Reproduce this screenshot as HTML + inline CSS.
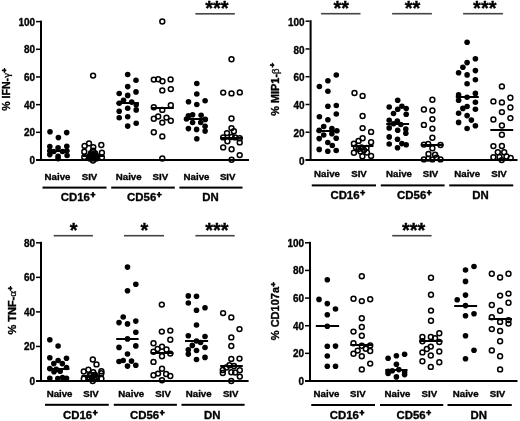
<!DOCTYPE html>
<html><head><meta charset="utf-8"><style>
html,body{margin:0;padding:0;background:#fff;width:520px;height:421px;overflow:hidden}
svg{display:block;filter:grayscale(1)}
text{font-family:"Liberation Sans",sans-serif;font-weight:bold;fill:#000;stroke:#000;stroke-width:0.35px;stroke-linejoin:round}
</style></head><body>
<svg width="520" height="421" viewBox="0 0 520 421">
<rect x="40.00" y="20.60" width="2.00" height="140.40" fill="#000"/>
<rect x="36.00" y="159.00" width="213.00" height="2.00" fill="#000"/>
<rect x="36.00" y="159.25" width="4.00" height="1.50" fill="#000"/>
<text transform="translate(35.00,164.00) scale(0.94,1)" font-size="10.6" text-anchor="end">0</text>
<rect x="36.00" y="131.57" width="4.00" height="1.50" fill="#000"/>
<text transform="translate(35.00,136.32) scale(0.94,1)" font-size="10.6" text-anchor="end">20</text>
<rect x="36.00" y="103.89" width="4.00" height="1.50" fill="#000"/>
<text transform="translate(35.00,108.64) scale(0.94,1)" font-size="10.6" text-anchor="end">40</text>
<rect x="36.00" y="76.21" width="4.00" height="1.50" fill="#000"/>
<text transform="translate(35.00,80.96) scale(0.94,1)" font-size="10.6" text-anchor="end">60</text>
<rect x="36.00" y="48.53" width="4.00" height="1.50" fill="#000"/>
<text transform="translate(35.00,53.28) scale(0.94,1)" font-size="10.6" text-anchor="end">80</text>
<rect x="36.00" y="20.85" width="4.00" height="1.50" fill="#000"/>
<text transform="translate(35.00,25.60) scale(0.94,1)" font-size="10.6" text-anchor="end">100</text>
<text transform="translate(10,89.5) rotate(-90)" font-size="10.6" text-anchor="middle">% IFN-<tspan font-family="Liberation Serif" font-weight="normal">&#947;</tspan><tspan dx="0.3" dy="-3" font-size="8" style="stroke-width:0.7px">+</tspan></text>
<text x="57.50" y="179.50" font-size="9.7" text-anchor="middle" >Naive</text>
<text x="89.50" y="179.50" font-size="9.7" text-anchor="middle" >SIV</text>
<text x="128.70" y="179.50" font-size="9.7" text-anchor="middle" >Naive</text>
<text x="160.30" y="179.50" font-size="9.7" text-anchor="middle" >SIV</text>
<text x="196.50" y="179.50" font-size="9.7" text-anchor="middle" >Naive</text>
<text x="227.70" y="179.50" font-size="9.7" text-anchor="middle" >SIV</text>
<rect x="42.50" y="186.60" width="64.00" height="2.00" fill="#000"/>
<rect x="111.20" y="186.60" width="63.60" height="2.00" fill="#000"/>
<rect x="179.40" y="186.60" width="63.10" height="2.00" fill="#000"/>
<text x="78.10" y="200.75" font-size="11.4" text-anchor="middle" >CD16<tspan dx="0.6" dy="-2.6" font-size="8.3" style="stroke-width:0.8px">+</tspan></text>
<text x="144.40" y="200.75" font-size="11.4" text-anchor="middle" >CD56<tspan dx="0.6" dy="-2.6" font-size="8.3" style="stroke-width:0.8px">+</tspan></text>
<text x="210.50" y="200.75" font-size="11.4" text-anchor="middle" >DN</text>
<rect x="195.40" y="13.00" width="39.40" height="1.60" fill="#444"/>
<text x="216.90" y="15.20" font-size="20" text-anchor="middle" >***</text>
<circle cx="50.0" cy="131.8" r="2.8"/>
<circle cx="66.7" cy="132.6" r="2.8"/>
<circle cx="58.4" cy="137.6" r="2.8"/>
<circle cx="49.8" cy="146.6" r="2.8"/>
<circle cx="58.1" cy="147.8" r="2.8"/>
<circle cx="66.8" cy="146.3" r="2.8"/>
<circle cx="49.8" cy="150.7" r="2.8"/>
<circle cx="53.8" cy="151.5" r="2.8"/>
<circle cx="62.5" cy="151.5" r="2.8"/>
<circle cx="66.8" cy="150.7" r="2.8"/>
<circle cx="49.8" cy="154.6" r="2.8"/>
<circle cx="58.1" cy="156.2" r="2.8"/>
<circle cx="67.1" cy="155.5" r="2.8"/>
<circle cx="58.1" cy="158.6" r="2.8"/>
<circle cx="127.7" cy="74.5" r="2.8"/>
<circle cx="136.0" cy="80.2" r="2.8"/>
<circle cx="127.7" cy="86.6" r="2.8"/>
<circle cx="119.2" cy="93.5" r="2.8"/>
<circle cx="136.0" cy="91.9" r="2.8"/>
<circle cx="127.7" cy="95.4" r="2.8"/>
<circle cx="123.5" cy="100.2" r="2.8"/>
<circle cx="119.2" cy="103.2" r="2.8"/>
<circle cx="131.7" cy="102.1" r="2.8"/>
<circle cx="136.2" cy="104.8" r="2.8"/>
<circle cx="136.2" cy="109.9" r="2.8"/>
<circle cx="127.7" cy="108.2" r="2.8"/>
<circle cx="119.2" cy="111.3" r="2.8"/>
<circle cx="119.2" cy="117.7" r="2.8"/>
<circle cx="127.7" cy="116.7" r="2.8"/>
<circle cx="136.2" cy="123.2" r="2.8"/>
<circle cx="127.7" cy="126.1" r="2.8"/>
<circle cx="196.8" cy="83.5" r="2.8"/>
<circle cx="196.8" cy="94.0" r="2.8"/>
<circle cx="188.5" cy="101.8" r="2.8"/>
<circle cx="205.1" cy="100.7" r="2.8"/>
<circle cx="196.8" cy="104.5" r="2.8"/>
<circle cx="188.4" cy="115.9" r="2.8"/>
<circle cx="192.6" cy="114.8" r="2.8"/>
<circle cx="201.1" cy="115.2" r="2.8"/>
<circle cx="205.3" cy="119.4" r="2.8"/>
<circle cx="192.6" cy="122.5" r="2.8"/>
<circle cx="200.7" cy="122.5" r="2.8"/>
<circle cx="188.4" cy="128.6" r="2.8"/>
<circle cx="196.6" cy="129.4" r="2.8"/>
<circle cx="205.1" cy="126.3" r="2.8"/>
<circle cx="205.1" cy="131.1" r="2.8"/>
<circle cx="196.8" cy="138.8" r="2.8"/>
<circle cx="186.5" cy="119.0" r="2.8"/>
<circle cx="93.1" cy="75.6" r="2.45" fill="none" stroke="#000" stroke-width="1.5"/>
<circle cx="84.6" cy="145.9" r="2.45" fill="none" stroke="#000" stroke-width="1.5"/>
<circle cx="89.0" cy="143.4" r="2.45" fill="none" stroke="#000" stroke-width="1.5"/>
<circle cx="93.3" cy="147.1" r="2.45" fill="none" stroke="#000" stroke-width="1.5"/>
<circle cx="101.3" cy="145.0" r="2.45" fill="none" stroke="#000" stroke-width="1.5"/>
<circle cx="84.3" cy="151.7" r="2.45" fill="none" stroke="#000" stroke-width="1.5"/>
<circle cx="101.9" cy="152.7" r="2.45" fill="none" stroke="#000" stroke-width="1.5"/>
<circle cx="93.0" cy="150.8" r="2.45" fill="none" stroke="#000" stroke-width="1.5"/>
<circle cx="91.0" cy="153.3" r="2.45" fill="none" stroke="#000" stroke-width="1.5"/>
<circle cx="95.0" cy="153.3" r="2.45" fill="none" stroke="#000" stroke-width="1.5"/>
<circle cx="89.8" cy="156.0" r="2.45" fill="none" stroke="#000" stroke-width="1.5"/>
<circle cx="93.0" cy="156.0" r="2.45" fill="none" stroke="#000" stroke-width="1.5"/>
<circle cx="96.3" cy="156.0" r="2.45" fill="none" stroke="#000" stroke-width="1.5"/>
<circle cx="89.8" cy="158.6" r="2.45" fill="none" stroke="#000" stroke-width="1.5"/>
<circle cx="93.0" cy="158.6" r="2.45" fill="none" stroke="#000" stroke-width="1.5"/>
<circle cx="96.3" cy="158.6" r="2.45" fill="none" stroke="#000" stroke-width="1.5"/>
<circle cx="91.3" cy="155.0" r="2.45" fill="none" stroke="#000" stroke-width="1.5"/>
<circle cx="94.7" cy="155.0" r="2.45" fill="none" stroke="#000" stroke-width="1.5"/>
<circle cx="91.5" cy="157.5" r="2.45" fill="none" stroke="#000" stroke-width="1.5"/>
<circle cx="94.5" cy="157.5" r="2.45" fill="none" stroke="#000" stroke-width="1.5"/>
<circle cx="84.3" cy="157.0" r="2.45" fill="none" stroke="#000" stroke-width="1.5"/>
<circle cx="101.9" cy="157.5" r="2.45" fill="none" stroke="#000" stroke-width="1.5"/>
<circle cx="93.0" cy="160.5" r="2.45" fill="none" stroke="#000" stroke-width="1.5"/>
<circle cx="162.3" cy="21.5" r="2.45" fill="none" stroke="#000" stroke-width="1.5"/>
<circle cx="153.8" cy="79.6" r="2.45" fill="none" stroke="#000" stroke-width="1.5"/>
<circle cx="158.2" cy="79.2" r="2.45" fill="none" stroke="#000" stroke-width="1.5"/>
<circle cx="162.5" cy="81.2" r="2.45" fill="none" stroke="#000" stroke-width="1.5"/>
<circle cx="170.6" cy="79.4" r="2.45" fill="none" stroke="#000" stroke-width="1.5"/>
<circle cx="162.3" cy="90.4" r="2.45" fill="none" stroke="#000" stroke-width="1.5"/>
<circle cx="170.8" cy="89.1" r="2.45" fill="none" stroke="#000" stroke-width="1.5"/>
<circle cx="153.8" cy="107.2" r="2.45" fill="none" stroke="#000" stroke-width="1.5"/>
<circle cx="162.3" cy="109.9" r="2.45" fill="none" stroke="#000" stroke-width="1.5"/>
<circle cx="170.8" cy="105.3" r="2.45" fill="none" stroke="#000" stroke-width="1.5"/>
<circle cx="153.8" cy="118.8" r="2.45" fill="none" stroke="#000" stroke-width="1.5"/>
<circle cx="158.2" cy="116.5" r="2.45" fill="none" stroke="#000" stroke-width="1.5"/>
<circle cx="166.5" cy="117.6" r="2.45" fill="none" stroke="#000" stroke-width="1.5"/>
<circle cx="162.3" cy="122.6" r="2.45" fill="none" stroke="#000" stroke-width="1.5"/>
<circle cx="170.8" cy="120.7" r="2.45" fill="none" stroke="#000" stroke-width="1.5"/>
<circle cx="153.8" cy="132.3" r="2.45" fill="none" stroke="#000" stroke-width="1.5"/>
<circle cx="162.3" cy="136.4" r="2.45" fill="none" stroke="#000" stroke-width="1.5"/>
<circle cx="162.3" cy="158.5" r="2.45" fill="none" stroke="#000" stroke-width="1.5"/>
<circle cx="231.5" cy="59.2" r="2.45" fill="none" stroke="#000" stroke-width="1.5"/>
<circle cx="223.2" cy="92.6" r="2.45" fill="none" stroke="#000" stroke-width="1.5"/>
<circle cx="231.5" cy="93.4" r="2.45" fill="none" stroke="#000" stroke-width="1.5"/>
<circle cx="239.8" cy="92.4" r="2.45" fill="none" stroke="#000" stroke-width="1.5"/>
<circle cx="231.5" cy="118.5" r="2.45" fill="none" stroke="#000" stroke-width="1.5"/>
<circle cx="231.5" cy="128.1" r="2.45" fill="none" stroke="#000" stroke-width="1.5"/>
<circle cx="233.9" cy="131.2" r="2.45" fill="none" stroke="#000" stroke-width="1.5"/>
<circle cx="227.0" cy="133.1" r="2.45" fill="none" stroke="#000" stroke-width="1.5"/>
<circle cx="223.2" cy="137.4" r="2.45" fill="none" stroke="#000" stroke-width="1.5"/>
<circle cx="231.6" cy="137.0" r="2.45" fill="none" stroke="#000" stroke-width="1.5"/>
<circle cx="235.1" cy="137.4" r="2.45" fill="none" stroke="#000" stroke-width="1.5"/>
<circle cx="239.7" cy="138.2" r="2.45" fill="none" stroke="#000" stroke-width="1.5"/>
<circle cx="227.4" cy="141.2" r="2.45" fill="none" stroke="#000" stroke-width="1.5"/>
<circle cx="239.7" cy="142.4" r="2.45" fill="none" stroke="#000" stroke-width="1.5"/>
<circle cx="223.2" cy="147.4" r="2.45" fill="none" stroke="#000" stroke-width="1.5"/>
<circle cx="231.6" cy="149.3" r="2.45" fill="none" stroke="#000" stroke-width="1.5"/>
<circle cx="239.7" cy="155.1" r="2.45" fill="none" stroke="#000" stroke-width="1.5"/>
<circle cx="231.6" cy="159.7" r="2.45" fill="none" stroke="#000" stroke-width="1.5"/>
<rect x="47.20" y="150.00" width="22.20" height="2.00" fill="#000"/>
<rect x="83.00" y="155.00" width="21.00" height="2.00" fill="#000"/>
<rect x="116.50" y="102.00" width="22.30" height="2.00" fill="#000"/>
<rect x="151.20" y="107.00" width="22.60" height="2.00" fill="#000"/>
<rect x="185.30" y="118.00" width="22.70" height="2.00" fill="#000"/>
<rect x="220.50" y="137.00" width="22.30" height="2.00" fill="#000"/>
<rect x="309.60" y="20.20" width="2.00" height="140.80" fill="#000"/>
<rect x="305.60" y="159.00" width="211.90" height="2.00" fill="#000"/>
<rect x="305.60" y="159.25" width="4.00" height="1.50" fill="#000"/>
<text transform="translate(304.60,164.70) scale(0.94,1)" font-size="10.6" text-anchor="end">0</text>
<rect x="305.60" y="131.49" width="4.00" height="1.50" fill="#000"/>
<text transform="translate(304.60,136.94) scale(0.94,1)" font-size="10.6" text-anchor="end">20</text>
<rect x="305.60" y="103.73" width="4.00" height="1.50" fill="#000"/>
<text transform="translate(304.60,109.18) scale(0.94,1)" font-size="10.6" text-anchor="end">40</text>
<rect x="305.60" y="75.97" width="4.00" height="1.50" fill="#000"/>
<text transform="translate(304.60,81.42) scale(0.94,1)" font-size="10.6" text-anchor="end">60</text>
<rect x="305.60" y="48.21" width="4.00" height="1.50" fill="#000"/>
<text transform="translate(304.60,53.66) scale(0.94,1)" font-size="10.6" text-anchor="end">80</text>
<rect x="305.60" y="20.45" width="4.00" height="1.50" fill="#000"/>
<text transform="translate(304.60,25.90) scale(0.94,1)" font-size="10.6" text-anchor="end">100</text>
<text transform="translate(279,89.3) rotate(-90)" font-size="10.9" text-anchor="middle">% MIP1-<tspan font-family="Liberation Serif" font-weight="normal">&#946;</tspan><tspan dx="0.9" dy="-4.2" font-size="8" style="stroke-width:0.7px">+</tspan></text>
<text x="327.00" y="177.35" font-size="9.7" text-anchor="middle" >Naive</text>
<text x="359.00" y="177.35" font-size="9.7" text-anchor="middle" >SIV</text>
<text x="399.00" y="177.35" font-size="9.7" text-anchor="middle" >Naive</text>
<text x="430.50" y="177.35" font-size="9.7" text-anchor="middle" >SIV</text>
<text x="467.20" y="177.35" font-size="9.7" text-anchor="middle" >Naive</text>
<text x="499.00" y="177.35" font-size="9.7" text-anchor="middle" >SIV</text>
<rect x="311.75" y="184.40" width="64.25" height="2.00" fill="#000"/>
<rect x="380.80" y="184.40" width="63.80" height="2.00" fill="#000"/>
<rect x="449.25" y="184.40" width="64.00" height="2.00" fill="#000"/>
<text x="347.70" y="198.80" font-size="11.4" text-anchor="middle" >CD16<tspan dx="0.6" dy="-2.6" font-size="8.3" style="stroke-width:0.8px">+</tspan></text>
<text x="414.40" y="198.80" font-size="11.4" text-anchor="middle" >CD56<tspan dx="0.6" dy="-2.6" font-size="8.3" style="stroke-width:0.8px">+</tspan></text>
<text x="480.40" y="198.80" font-size="11.4" text-anchor="middle" >DN</text>
<rect x="321.10" y="12.90" width="39.40" height="1.60" fill="#444"/>
<text x="341.30" y="15.30" font-size="20" text-anchor="middle" >**</text>
<rect x="392.10" y="12.90" width="39.80" height="1.60" fill="#444"/>
<text x="412.50" y="15.30" font-size="20" text-anchor="middle" >**</text>
<rect x="463.10" y="12.90" width="39.80" height="1.60" fill="#444"/>
<text x="484.80" y="15.30" font-size="20" text-anchor="middle" >***</text>
<circle cx="336.3" cy="75.0" r="2.8"/>
<circle cx="327.9" cy="80.8" r="2.8"/>
<circle cx="319.4" cy="86.5" r="2.8"/>
<circle cx="327.9" cy="91.2" r="2.8"/>
<circle cx="327.9" cy="106.3" r="2.8"/>
<circle cx="336.3" cy="105.5" r="2.8"/>
<circle cx="336.3" cy="114.0" r="2.8"/>
<circle cx="319.4" cy="116.7" r="2.8"/>
<circle cx="327.9" cy="119.8" r="2.8"/>
<circle cx="323.7" cy="126.5" r="2.8"/>
<circle cx="319.2" cy="130.4" r="2.8"/>
<circle cx="331.9" cy="128.5" r="2.8"/>
<circle cx="336.9" cy="130.8" r="2.8"/>
<circle cx="323.7" cy="135.0" r="2.8"/>
<circle cx="331.9" cy="133.8" r="2.8"/>
<circle cx="336.2" cy="138.2" r="2.8"/>
<circle cx="319.2" cy="138.6" r="2.8"/>
<circle cx="327.8" cy="142.5" r="2.8"/>
<circle cx="332.3" cy="145.5" r="2.8"/>
<circle cx="319.2" cy="149.4" r="2.8"/>
<circle cx="327.8" cy="151.3" r="2.8"/>
<circle cx="336.2" cy="150.5" r="2.8"/>
<circle cx="397.7" cy="100.3" r="2.8"/>
<circle cx="389.2" cy="107.0" r="2.8"/>
<circle cx="401.9" cy="106.2" r="2.8"/>
<circle cx="397.7" cy="109.3" r="2.8"/>
<circle cx="406.2" cy="108.5" r="2.8"/>
<circle cx="393.5" cy="113.5" r="2.8"/>
<circle cx="406.2" cy="114.3" r="2.8"/>
<circle cx="389.2" cy="120.2" r="2.8"/>
<circle cx="397.3" cy="121.0" r="2.8"/>
<circle cx="393.5" cy="123.7" r="2.8"/>
<circle cx="400.8" cy="124.5" r="2.8"/>
<circle cx="389.2" cy="127.9" r="2.8"/>
<circle cx="405.8" cy="129.1" r="2.8"/>
<circle cx="397.7" cy="130.2" r="2.8"/>
<circle cx="405.8" cy="133.3" r="2.8"/>
<circle cx="389.2" cy="136.9" r="2.8"/>
<circle cx="397.5" cy="139.2" r="2.8"/>
<circle cx="389.2" cy="144.0" r="2.8"/>
<circle cx="401.9" cy="143.6" r="2.8"/>
<circle cx="406.2" cy="144.8" r="2.8"/>
<circle cx="397.5" cy="147.8" r="2.8"/>
<circle cx="467.1" cy="42.3" r="2.8"/>
<circle cx="475.4" cy="58.7" r="2.8"/>
<circle cx="467.1" cy="62.6" r="2.8"/>
<circle cx="462.9" cy="67.3" r="2.8"/>
<circle cx="458.6" cy="72.8" r="2.8"/>
<circle cx="475.4" cy="70.6" r="2.8"/>
<circle cx="467.1" cy="74.9" r="2.8"/>
<circle cx="475.4" cy="79.7" r="2.8"/>
<circle cx="467.1" cy="83.7" r="2.8"/>
<circle cx="458.6" cy="94.9" r="2.8"/>
<circle cx="475.4" cy="93.4" r="2.8"/>
<circle cx="458.6" cy="100.3" r="2.8"/>
<circle cx="467.1" cy="97.2" r="2.8"/>
<circle cx="475.4" cy="102.2" r="2.8"/>
<circle cx="467.1" cy="106.5" r="2.8"/>
<circle cx="462.9" cy="108.4" r="2.8"/>
<circle cx="475.4" cy="109.2" r="2.8"/>
<circle cx="458.6" cy="113.2" r="2.8"/>
<circle cx="467.1" cy="115.6" r="2.8"/>
<circle cx="471.4" cy="120.1" r="2.8"/>
<circle cx="458.6" cy="122.4" r="2.8"/>
<circle cx="475.4" cy="125.8" r="2.8"/>
<circle cx="467.1" cy="128.5" r="2.8"/>
<circle cx="354.5" cy="93.0" r="2.45" fill="none" stroke="#000" stroke-width="1.5"/>
<circle cx="362.6" cy="95.9" r="2.45" fill="none" stroke="#000" stroke-width="1.5"/>
<circle cx="362.6" cy="116.0" r="2.45" fill="none" stroke="#000" stroke-width="1.5"/>
<circle cx="362.6" cy="128.1" r="2.45" fill="none" stroke="#000" stroke-width="1.5"/>
<circle cx="371.1" cy="131.9" r="2.45" fill="none" stroke="#000" stroke-width="1.5"/>
<circle cx="362.6" cy="138.3" r="2.45" fill="none" stroke="#000" stroke-width="1.5"/>
<circle cx="358.5" cy="140.9" r="2.45" fill="none" stroke="#000" stroke-width="1.5"/>
<circle cx="353.9" cy="143.6" r="2.45" fill="none" stroke="#000" stroke-width="1.5"/>
<circle cx="371.1" cy="142.3" r="2.45" fill="none" stroke="#000" stroke-width="1.5"/>
<circle cx="358.5" cy="149.0" r="2.45" fill="none" stroke="#000" stroke-width="1.5"/>
<circle cx="364.0" cy="150.0" r="2.45" fill="none" stroke="#000" stroke-width="1.5"/>
<circle cx="356.0" cy="147.5" r="2.45" fill="none" stroke="#000" stroke-width="1.5"/>
<circle cx="361.5" cy="147.5" r="2.45" fill="none" stroke="#000" stroke-width="1.5"/>
<circle cx="366.5" cy="148.0" r="2.45" fill="none" stroke="#000" stroke-width="1.5"/>
<circle cx="360.5" cy="151.5" r="2.45" fill="none" stroke="#000" stroke-width="1.5"/>
<circle cx="353.9" cy="152.8" r="2.45" fill="none" stroke="#000" stroke-width="1.5"/>
<circle cx="367.0" cy="152.5" r="2.45" fill="none" stroke="#000" stroke-width="1.5"/>
<circle cx="362.4" cy="156.3" r="2.45" fill="none" stroke="#000" stroke-width="1.5"/>
<circle cx="371.1" cy="155.9" r="2.45" fill="none" stroke="#000" stroke-width="1.5"/>
<circle cx="432.4" cy="99.8" r="2.45" fill="none" stroke="#000" stroke-width="1.5"/>
<circle cx="423.9" cy="109.5" r="2.45" fill="none" stroke="#000" stroke-width="1.5"/>
<circle cx="432.4" cy="110.5" r="2.45" fill="none" stroke="#000" stroke-width="1.5"/>
<circle cx="432.4" cy="119.1" r="2.45" fill="none" stroke="#000" stroke-width="1.5"/>
<circle cx="423.9" cy="124.9" r="2.45" fill="none" stroke="#000" stroke-width="1.5"/>
<circle cx="432.4" cy="128.6" r="2.45" fill="none" stroke="#000" stroke-width="1.5"/>
<circle cx="432.4" cy="137.8" r="2.45" fill="none" stroke="#000" stroke-width="1.5"/>
<circle cx="423.9" cy="144.6" r="2.45" fill="none" stroke="#000" stroke-width="1.5"/>
<circle cx="428.2" cy="143.9" r="2.45" fill="none" stroke="#000" stroke-width="1.5"/>
<circle cx="440.5" cy="145.0" r="2.45" fill="none" stroke="#000" stroke-width="1.5"/>
<circle cx="432.4" cy="148.2" r="2.45" fill="none" stroke="#000" stroke-width="1.5"/>
<circle cx="428.5" cy="154.0" r="2.45" fill="none" stroke="#000" stroke-width="1.5"/>
<circle cx="435.1" cy="154.8" r="2.45" fill="none" stroke="#000" stroke-width="1.5"/>
<circle cx="423.9" cy="159.4" r="2.45" fill="none" stroke="#000" stroke-width="1.5"/>
<circle cx="432.4" cy="159.4" r="2.45" fill="none" stroke="#000" stroke-width="1.5"/>
<circle cx="440.5" cy="159.4" r="2.45" fill="none" stroke="#000" stroke-width="1.5"/>
<circle cx="428.2" cy="158.6" r="2.45" fill="none" stroke="#000" stroke-width="1.5"/>
<circle cx="436.6" cy="157.8" r="2.45" fill="none" stroke="#000" stroke-width="1.5"/>
<circle cx="501.9" cy="86.4" r="2.45" fill="none" stroke="#000" stroke-width="1.5"/>
<circle cx="510.4" cy="97.8" r="2.45" fill="none" stroke="#000" stroke-width="1.5"/>
<circle cx="493.4" cy="101.4" r="2.45" fill="none" stroke="#000" stroke-width="1.5"/>
<circle cx="501.9" cy="102.4" r="2.45" fill="none" stroke="#000" stroke-width="1.5"/>
<circle cx="510.4" cy="107.5" r="2.45" fill="none" stroke="#000" stroke-width="1.5"/>
<circle cx="501.9" cy="112.1" r="2.45" fill="none" stroke="#000" stroke-width="1.5"/>
<circle cx="493.4" cy="119.5" r="2.45" fill="none" stroke="#000" stroke-width="1.5"/>
<circle cx="510.4" cy="118.1" r="2.45" fill="none" stroke="#000" stroke-width="1.5"/>
<circle cx="501.9" cy="125.5" r="2.45" fill="none" stroke="#000" stroke-width="1.5"/>
<circle cx="501.9" cy="134.7" r="2.45" fill="none" stroke="#000" stroke-width="1.5"/>
<circle cx="493.4" cy="146.1" r="2.45" fill="none" stroke="#000" stroke-width="1.5"/>
<circle cx="501.9" cy="146.0" r="2.45" fill="none" stroke="#000" stroke-width="1.5"/>
<circle cx="497.8" cy="152.2" r="2.45" fill="none" stroke="#000" stroke-width="1.5"/>
<circle cx="504.2" cy="152.2" r="2.45" fill="none" stroke="#000" stroke-width="1.5"/>
<circle cx="493.4" cy="157.2" r="2.45" fill="none" stroke="#000" stroke-width="1.5"/>
<circle cx="506.5" cy="156.5" r="2.45" fill="none" stroke="#000" stroke-width="1.5"/>
<circle cx="501.7" cy="160.1" r="2.45" fill="none" stroke="#000" stroke-width="1.5"/>
<circle cx="510.7" cy="158.0" r="2.45" fill="none" stroke="#000" stroke-width="1.5"/>
<circle cx="499.5" cy="157.0" r="2.45" fill="none" stroke="#000" stroke-width="1.5"/>
<rect x="316.50" y="130.00" width="22.70" height="2.00" fill="#000"/>
<rect x="351.20" y="145.00" width="22.30" height="2.00" fill="#000"/>
<rect x="386.20" y="123.00" width="22.90" height="2.00" fill="#000"/>
<rect x="420.80" y="144.00" width="22.70" height="2.00" fill="#000"/>
<rect x="455.80" y="96.00" width="23.00" height="2.00" fill="#000"/>
<rect x="490.30" y="129.00" width="22.90" height="2.00" fill="#000"/>
<rect x="40.00" y="241.80" width="2.00" height="140.20" fill="#000"/>
<rect x="36.00" y="380.00" width="212.60" height="2.00" fill="#000"/>
<rect x="36.00" y="380.25" width="4.00" height="1.50" fill="#000"/>
<text transform="translate(35.00,385.00) scale(0.94,1)" font-size="10.6" text-anchor="end">0</text>
<rect x="36.00" y="345.70" width="4.00" height="1.50" fill="#000"/>
<text transform="translate(35.00,350.45) scale(0.94,1)" font-size="10.6" text-anchor="end">20</text>
<rect x="36.00" y="311.15" width="4.00" height="1.50" fill="#000"/>
<text transform="translate(35.00,315.90) scale(0.94,1)" font-size="10.6" text-anchor="end">40</text>
<rect x="36.00" y="276.60" width="4.00" height="1.50" fill="#000"/>
<text transform="translate(35.00,281.35) scale(0.94,1)" font-size="10.6" text-anchor="end">60</text>
<rect x="36.00" y="242.05" width="4.00" height="1.50" fill="#000"/>
<text transform="translate(35.00,246.80) scale(0.94,1)" font-size="10.6" text-anchor="end">80</text>
<text transform="translate(16,310.3) rotate(-90)" font-size="11" text-anchor="middle">% TNF-<tspan font-family="Liberation Serif" font-weight="normal">&#945;</tspan><tspan dx="0.3" dy="-3" font-size="8" style="stroke-width:0.7px">+</tspan></text>
<text x="59.60" y="396.95" font-size="9.7" text-anchor="middle" >Naive</text>
<text x="91.00" y="396.95" font-size="9.7" text-anchor="middle" >SIV</text>
<text x="131.30" y="396.95" font-size="9.7" text-anchor="middle" >Naive</text>
<text x="163.10" y="396.95" font-size="9.7" text-anchor="middle" >SIV</text>
<text x="198.70" y="396.95" font-size="9.7" text-anchor="middle" >Naive</text>
<text x="230.70" y="396.95" font-size="9.7" text-anchor="middle" >SIV</text>
<rect x="45.00" y="403.80" width="63.75" height="2.00" fill="#000"/>
<rect x="113.80" y="403.80" width="63.10" height="2.00" fill="#000"/>
<rect x="181.50" y="403.80" width="63.10" height="2.00" fill="#000"/>
<text x="80.25" y="418.55" font-size="11.4" text-anchor="middle" >CD16<tspan dx="0.6" dy="-2.6" font-size="8.3" style="stroke-width:0.8px">+</tspan></text>
<text x="147.30" y="418.55" font-size="11.4" text-anchor="middle" >CD56<tspan dx="0.6" dy="-2.6" font-size="8.3" style="stroke-width:0.8px">+</tspan></text>
<text x="212.30" y="418.55" font-size="11.4" text-anchor="middle" >DN</text>
<rect x="53.70" y="234.90" width="39.20" height="1.60" fill="#444"/>
<text x="73.60" y="237.10" font-size="20" text-anchor="middle" >*</text>
<rect x="124.00" y="234.90" width="40.00" height="1.60" fill="#444"/>
<text x="144.30" y="237.10" font-size="20" text-anchor="middle" >*</text>
<rect x="195.40" y="234.90" width="39.30" height="1.60" fill="#444"/>
<text x="216.85" y="237.10" font-size="20" text-anchor="middle" >***</text>
<circle cx="49.8" cy="339.8" r="2.8"/>
<circle cx="58.1" cy="346.0" r="2.8"/>
<circle cx="49.8" cy="357.7" r="2.8"/>
<circle cx="66.5" cy="358.2" r="2.8"/>
<circle cx="58.1" cy="360.5" r="2.8"/>
<circle cx="53.8" cy="363.6" r="2.8"/>
<circle cx="62.3" cy="363.6" r="2.8"/>
<circle cx="49.8" cy="368.6" r="2.8"/>
<circle cx="66.5" cy="367.5" r="2.8"/>
<circle cx="54.0" cy="371.7" r="2.8"/>
<circle cx="60.2" cy="371.3" r="2.8"/>
<circle cx="56.3" cy="369.4" r="2.8"/>
<circle cx="49.8" cy="378.2" r="2.8"/>
<circle cx="57.8" cy="378.6" r="2.8"/>
<circle cx="62.5" cy="377.5" r="2.8"/>
<circle cx="66.5" cy="378.2" r="2.8"/>
<circle cx="127.5" cy="267.1" r="2.8"/>
<circle cx="135.8" cy="284.2" r="2.8"/>
<circle cx="127.5" cy="290.8" r="2.8"/>
<circle cx="123.2" cy="317.0" r="2.8"/>
<circle cx="119.0" cy="322.6" r="2.8"/>
<circle cx="127.5" cy="323.9" r="2.8"/>
<circle cx="135.8" cy="321.1" r="2.8"/>
<circle cx="135.8" cy="332.2" r="2.8"/>
<circle cx="127.5" cy="338.9" r="2.8"/>
<circle cx="135.8" cy="345.9" r="2.8"/>
<circle cx="119.0" cy="347.4" r="2.8"/>
<circle cx="127.5" cy="354.0" r="2.8"/>
<circle cx="119.0" cy="361.5" r="2.8"/>
<circle cx="123.2" cy="360.5" r="2.8"/>
<circle cx="131.5" cy="361.1" r="2.8"/>
<circle cx="127.5" cy="366.1" r="2.8"/>
<circle cx="135.8" cy="365.3" r="2.8"/>
<circle cx="188.3" cy="295.9" r="2.8"/>
<circle cx="196.5" cy="296.2" r="2.8"/>
<circle cx="188.3" cy="303.0" r="2.8"/>
<circle cx="205.0" cy="307.8" r="2.8"/>
<circle cx="196.5" cy="310.2" r="2.8"/>
<circle cx="196.5" cy="325.0" r="2.8"/>
<circle cx="188.3" cy="335.8" r="2.8"/>
<circle cx="205.0" cy="336.5" r="2.8"/>
<circle cx="196.5" cy="341.0" r="2.8"/>
<circle cx="200.6" cy="342.5" r="2.8"/>
<circle cx="192.3" cy="345.4" r="2.8"/>
<circle cx="205.0" cy="347.5" r="2.8"/>
<circle cx="188.3" cy="349.8" r="2.8"/>
<circle cx="196.5" cy="350.5" r="2.8"/>
<circle cx="188.3" cy="354.1" r="2.8"/>
<circle cx="205.0" cy="357.4" r="2.8"/>
<circle cx="196.5" cy="359.5" r="2.8"/>
<circle cx="92.8" cy="359.5" r="2.45" fill="none" stroke="#000" stroke-width="1.5"/>
<circle cx="96.5" cy="364.4" r="2.45" fill="none" stroke="#000" stroke-width="1.5"/>
<circle cx="83.8" cy="371.5" r="2.45" fill="none" stroke="#000" stroke-width="1.5"/>
<circle cx="88.4" cy="369.8" r="2.45" fill="none" stroke="#000" stroke-width="1.5"/>
<circle cx="93.3" cy="372.1" r="2.45" fill="none" stroke="#000" stroke-width="1.5"/>
<circle cx="101.4" cy="371.2" r="2.45" fill="none" stroke="#000" stroke-width="1.5"/>
<circle cx="101.4" cy="373.3" r="2.45" fill="none" stroke="#000" stroke-width="1.5"/>
<circle cx="91.0" cy="375.0" r="2.45" fill="none" stroke="#000" stroke-width="1.5"/>
<circle cx="95.0" cy="375.0" r="2.45" fill="none" stroke="#000" stroke-width="1.5"/>
<circle cx="83.8" cy="378.7" r="2.45" fill="none" stroke="#000" stroke-width="1.5"/>
<circle cx="88.4" cy="377.6" r="2.45" fill="none" stroke="#000" stroke-width="1.5"/>
<circle cx="96.5" cy="377.6" r="2.45" fill="none" stroke="#000" stroke-width="1.5"/>
<circle cx="101.4" cy="378.7" r="2.45" fill="none" stroke="#000" stroke-width="1.5"/>
<circle cx="92.7" cy="381.0" r="2.45" fill="none" stroke="#000" stroke-width="1.5"/>
<circle cx="90.0" cy="375.0" r="2.45" fill="none" stroke="#000" stroke-width="1.5"/>
<circle cx="94.5" cy="375.0" r="2.45" fill="none" stroke="#000" stroke-width="1.5"/>
<circle cx="92.0" cy="377.5" r="2.45" fill="none" stroke="#000" stroke-width="1.5"/>
<circle cx="96.0" cy="377.0" r="2.45" fill="none" stroke="#000" stroke-width="1.5"/>
<circle cx="90.0" cy="378.5" r="2.45" fill="none" stroke="#000" stroke-width="1.5"/>
<circle cx="94.5" cy="379.0" r="2.45" fill="none" stroke="#000" stroke-width="1.5"/>
<circle cx="161.8" cy="304.6" r="2.45" fill="none" stroke="#000" stroke-width="1.5"/>
<circle cx="161.8" cy="331.6" r="2.45" fill="none" stroke="#000" stroke-width="1.5"/>
<circle cx="170.3" cy="330.6" r="2.45" fill="none" stroke="#000" stroke-width="1.5"/>
<circle cx="170.3" cy="339.8" r="2.45" fill="none" stroke="#000" stroke-width="1.5"/>
<circle cx="153.5" cy="343.2" r="2.45" fill="none" stroke="#000" stroke-width="1.5"/>
<circle cx="157.6" cy="349.0" r="2.45" fill="none" stroke="#000" stroke-width="1.5"/>
<circle cx="162.0" cy="346.7" r="2.45" fill="none" stroke="#000" stroke-width="1.5"/>
<circle cx="166.5" cy="349.5" r="2.45" fill="none" stroke="#000" stroke-width="1.5"/>
<circle cx="153.5" cy="351.7" r="2.45" fill="none" stroke="#000" stroke-width="1.5"/>
<circle cx="170.3" cy="353.6" r="2.45" fill="none" stroke="#000" stroke-width="1.5"/>
<circle cx="162.0" cy="356.3" r="2.45" fill="none" stroke="#000" stroke-width="1.5"/>
<circle cx="153.5" cy="361.9" r="2.45" fill="none" stroke="#000" stroke-width="1.5"/>
<circle cx="162.0" cy="368.8" r="2.45" fill="none" stroke="#000" stroke-width="1.5"/>
<circle cx="153.5" cy="375.2" r="2.45" fill="none" stroke="#000" stroke-width="1.5"/>
<circle cx="158.0" cy="373.6" r="2.45" fill="none" stroke="#000" stroke-width="1.5"/>
<circle cx="166.1" cy="374.0" r="2.45" fill="none" stroke="#000" stroke-width="1.5"/>
<circle cx="170.3" cy="376.0" r="2.45" fill="none" stroke="#000" stroke-width="1.5"/>
<circle cx="162.0" cy="380.2" r="2.45" fill="none" stroke="#000" stroke-width="1.5"/>
<circle cx="223.1" cy="313.1" r="2.45" fill="none" stroke="#000" stroke-width="1.5"/>
<circle cx="231.3" cy="317.4" r="2.45" fill="none" stroke="#000" stroke-width="1.5"/>
<circle cx="239.5" cy="329.1" r="2.45" fill="none" stroke="#000" stroke-width="1.5"/>
<circle cx="231.3" cy="337.4" r="2.45" fill="none" stroke="#000" stroke-width="1.5"/>
<circle cx="231.3" cy="346.0" r="2.45" fill="none" stroke="#000" stroke-width="1.5"/>
<circle cx="231.3" cy="358.9" r="2.45" fill="none" stroke="#000" stroke-width="1.5"/>
<circle cx="239.5" cy="358.6" r="2.45" fill="none" stroke="#000" stroke-width="1.5"/>
<circle cx="229.4" cy="365.2" r="2.45" fill="none" stroke="#000" stroke-width="1.5"/>
<circle cx="234.0" cy="366.0" r="2.45" fill="none" stroke="#000" stroke-width="1.5"/>
<circle cx="226.3" cy="367.5" r="2.45" fill="none" stroke="#000" stroke-width="1.5"/>
<circle cx="222.8" cy="370.0" r="2.45" fill="none" stroke="#000" stroke-width="1.5"/>
<circle cx="222.8" cy="373.0" r="2.45" fill="none" stroke="#000" stroke-width="1.5"/>
<circle cx="231.3" cy="372.2" r="2.45" fill="none" stroke="#000" stroke-width="1.5"/>
<circle cx="235.2" cy="372.5" r="2.45" fill="none" stroke="#000" stroke-width="1.5"/>
<circle cx="239.8" cy="370.2" r="2.45" fill="none" stroke="#000" stroke-width="1.5"/>
<circle cx="239.8" cy="376.6" r="2.45" fill="none" stroke="#000" stroke-width="1.5"/>
<circle cx="231.3" cy="381.0" r="2.45" fill="none" stroke="#000" stroke-width="1.5"/>
<rect x="47.10" y="368.00" width="22.30" height="2.00" fill="#000"/>
<rect x="81.50" y="375.00" width="22.00" height="2.00" fill="#000"/>
<rect x="116.20" y="338.00" width="22.40" height="2.00" fill="#000"/>
<rect x="150.70" y="352.00" width="22.70" height="2.00" fill="#000"/>
<rect x="185.00" y="340.00" width="23.10" height="2.00" fill="#000"/>
<rect x="220.20" y="365.00" width="22.60" height="2.00" fill="#000"/>
<rect x="309.00" y="241.80" width="2.00" height="140.20" fill="#000"/>
<rect x="305.00" y="380.00" width="212.50" height="2.00" fill="#000"/>
<rect x="305.00" y="380.25" width="4.00" height="1.50" fill="#000"/>
<text transform="translate(304.00,385.00) scale(0.94,1)" font-size="10.6" text-anchor="end">0</text>
<rect x="305.00" y="352.61" width="4.00" height="1.50" fill="#000"/>
<text transform="translate(304.00,357.36) scale(0.94,1)" font-size="10.6" text-anchor="end">20</text>
<rect x="305.00" y="324.97" width="4.00" height="1.50" fill="#000"/>
<text transform="translate(304.00,329.72) scale(0.94,1)" font-size="10.6" text-anchor="end">40</text>
<rect x="305.00" y="297.33" width="4.00" height="1.50" fill="#000"/>
<text transform="translate(304.00,302.08) scale(0.94,1)" font-size="10.6" text-anchor="end">60</text>
<rect x="305.00" y="269.69" width="4.00" height="1.50" fill="#000"/>
<text transform="translate(304.00,274.44) scale(0.94,1)" font-size="10.6" text-anchor="end">80</text>
<rect x="305.00" y="242.05" width="4.00" height="1.50" fill="#000"/>
<text transform="translate(304.00,246.80) scale(0.94,1)" font-size="10.6" text-anchor="end">100</text>
<text transform="translate(279,311.1) rotate(-90)" font-size="11" text-anchor="middle">% CD107a<tspan dx="0.3" dy="-3" font-size="8" style="stroke-width:0.7px">+</tspan></text>
<text x="326.50" y="396.85" font-size="9.7" text-anchor="middle" >Naive</text>
<text x="357.90" y="396.85" font-size="9.7" text-anchor="middle" >SIV</text>
<text x="397.50" y="396.85" font-size="9.7" text-anchor="middle" >Naive</text>
<text x="429.30" y="396.85" font-size="9.7" text-anchor="middle" >SIV</text>
<text x="465.70" y="396.85" font-size="9.7" text-anchor="middle" >Naive</text>
<text x="497.50" y="396.85" font-size="9.7" text-anchor="middle" >SIV</text>
<rect x="311.25" y="404.00" width="63.75" height="2.00" fill="#000"/>
<rect x="380.00" y="404.00" width="63.25" height="2.00" fill="#000"/>
<rect x="447.50" y="404.00" width="64.25" height="2.00" fill="#000"/>
<text x="347.10" y="418.55" font-size="11.4" text-anchor="middle" >CD16<tspan dx="0.6" dy="-2.6" font-size="8.3" style="stroke-width:0.8px">+</tspan></text>
<text x="413.75" y="418.55" font-size="11.4" text-anchor="middle" >CD56<tspan dx="0.6" dy="-2.6" font-size="8.3" style="stroke-width:0.8px">+</tspan></text>
<text x="478.75" y="418.55" font-size="11.4" text-anchor="middle" >DN</text>
<rect x="392.20" y="234.90" width="39.40" height="1.60" fill="#444"/>
<text x="413.70" y="237.10" font-size="20" text-anchor="middle" >***</text>
<circle cx="327.3" cy="279.8" r="2.8"/>
<circle cx="319.0" cy="299.4" r="2.8"/>
<circle cx="327.3" cy="303.6" r="2.8"/>
<circle cx="335.5" cy="309.0" r="2.8"/>
<circle cx="327.3" cy="314.8" r="2.8"/>
<circle cx="327.3" cy="326.3" r="2.8"/>
<circle cx="327.3" cy="346.3" r="2.8"/>
<circle cx="335.5" cy="346.1" r="2.8"/>
<circle cx="327.3" cy="356.0" r="2.8"/>
<circle cx="327.3" cy="366.2" r="2.8"/>
<circle cx="335.5" cy="366.2" r="2.8"/>
<circle cx="404.6" cy="354.2" r="2.8"/>
<circle cx="396.4" cy="355.8" r="2.8"/>
<circle cx="388.1" cy="358.3" r="2.8"/>
<circle cx="396.4" cy="364.2" r="2.8"/>
<circle cx="388.1" cy="371.2" r="2.8"/>
<circle cx="392.3" cy="370.8" r="2.8"/>
<circle cx="398.8" cy="369.6" r="2.8"/>
<circle cx="404.6" cy="371.9" r="2.8"/>
<circle cx="404.6" cy="374.6" r="2.8"/>
<circle cx="388.1" cy="373.5" r="2.8"/>
<circle cx="396.4" cy="376.9" r="2.8"/>
<circle cx="474.0" cy="266.5" r="2.8"/>
<circle cx="465.5" cy="270.0" r="2.8"/>
<circle cx="465.5" cy="281.4" r="2.8"/>
<circle cx="465.5" cy="295.1" r="2.8"/>
<circle cx="457.2" cy="299.7" r="2.8"/>
<circle cx="465.5" cy="305.6" r="2.8"/>
<circle cx="474.0" cy="313.7" r="2.8"/>
<circle cx="465.5" cy="315.7" r="2.8"/>
<circle cx="465.5" cy="335.8" r="2.8"/>
<circle cx="474.0" cy="350.3" r="2.8"/>
<circle cx="465.5" cy="358.8" r="2.8"/>
<circle cx="361.8" cy="276.2" r="2.45" fill="none" stroke="#000" stroke-width="1.5"/>
<circle cx="353.5" cy="298.7" r="2.45" fill="none" stroke="#000" stroke-width="1.5"/>
<circle cx="361.8" cy="301.1" r="2.45" fill="none" stroke="#000" stroke-width="1.5"/>
<circle cx="370.2" cy="299.2" r="2.45" fill="none" stroke="#000" stroke-width="1.5"/>
<circle cx="361.8" cy="318.3" r="2.45" fill="none" stroke="#000" stroke-width="1.5"/>
<circle cx="361.8" cy="327.0" r="2.45" fill="none" stroke="#000" stroke-width="1.5"/>
<circle cx="353.5" cy="331.6" r="2.45" fill="none" stroke="#000" stroke-width="1.5"/>
<circle cx="361.8" cy="335.7" r="2.45" fill="none" stroke="#000" stroke-width="1.5"/>
<circle cx="353.5" cy="343.2" r="2.45" fill="none" stroke="#000" stroke-width="1.5"/>
<circle cx="361.8" cy="345.8" r="2.45" fill="none" stroke="#000" stroke-width="1.5"/>
<circle cx="370.2" cy="345.5" r="2.45" fill="none" stroke="#000" stroke-width="1.5"/>
<circle cx="357.7" cy="350.6" r="2.45" fill="none" stroke="#000" stroke-width="1.5"/>
<circle cx="365.8" cy="348.8" r="2.45" fill="none" stroke="#000" stroke-width="1.5"/>
<circle cx="370.2" cy="351.0" r="2.45" fill="none" stroke="#000" stroke-width="1.5"/>
<circle cx="353.5" cy="353.8" r="2.45" fill="none" stroke="#000" stroke-width="1.5"/>
<circle cx="361.8" cy="356.3" r="2.45" fill="none" stroke="#000" stroke-width="1.5"/>
<circle cx="370.2" cy="363.6" r="2.45" fill="none" stroke="#000" stroke-width="1.5"/>
<circle cx="361.8" cy="369.4" r="2.45" fill="none" stroke="#000" stroke-width="1.5"/>
<circle cx="431.0" cy="277.7" r="2.45" fill="none" stroke="#000" stroke-width="1.5"/>
<circle cx="431.0" cy="294.8" r="2.45" fill="none" stroke="#000" stroke-width="1.5"/>
<circle cx="431.0" cy="310.6" r="2.45" fill="none" stroke="#000" stroke-width="1.5"/>
<circle cx="431.0" cy="320.8" r="2.45" fill="none" stroke="#000" stroke-width="1.5"/>
<circle cx="439.3" cy="333.2" r="2.45" fill="none" stroke="#000" stroke-width="1.5"/>
<circle cx="422.4" cy="337.0" r="2.45" fill="none" stroke="#000" stroke-width="1.5"/>
<circle cx="430.8" cy="337.0" r="2.45" fill="none" stroke="#000" stroke-width="1.5"/>
<circle cx="435.1" cy="338.2" r="2.45" fill="none" stroke="#000" stroke-width="1.5"/>
<circle cx="422.4" cy="341.2" r="2.45" fill="none" stroke="#000" stroke-width="1.5"/>
<circle cx="439.3" cy="342.0" r="2.45" fill="none" stroke="#000" stroke-width="1.5"/>
<circle cx="430.8" cy="346.6" r="2.45" fill="none" stroke="#000" stroke-width="1.5"/>
<circle cx="426.8" cy="349.0" r="2.45" fill="none" stroke="#000" stroke-width="1.5"/>
<circle cx="422.4" cy="352.4" r="2.45" fill="none" stroke="#000" stroke-width="1.5"/>
<circle cx="439.3" cy="351.5" r="2.45" fill="none" stroke="#000" stroke-width="1.5"/>
<circle cx="430.8" cy="355.5" r="2.45" fill="none" stroke="#000" stroke-width="1.5"/>
<circle cx="422.4" cy="361.3" r="2.45" fill="none" stroke="#000" stroke-width="1.5"/>
<circle cx="439.3" cy="362.3" r="2.45" fill="none" stroke="#000" stroke-width="1.5"/>
<circle cx="430.8" cy="366.9" r="2.45" fill="none" stroke="#000" stroke-width="1.5"/>
<circle cx="491.8" cy="273.7" r="2.45" fill="none" stroke="#000" stroke-width="1.5"/>
<circle cx="500.1" cy="277.5" r="2.45" fill="none" stroke="#000" stroke-width="1.5"/>
<circle cx="508.5" cy="273.7" r="2.45" fill="none" stroke="#000" stroke-width="1.5"/>
<circle cx="508.5" cy="293.6" r="2.45" fill="none" stroke="#000" stroke-width="1.5"/>
<circle cx="500.1" cy="295.6" r="2.45" fill="none" stroke="#000" stroke-width="1.5"/>
<circle cx="508.5" cy="302.8" r="2.45" fill="none" stroke="#000" stroke-width="1.5"/>
<circle cx="491.8" cy="305.0" r="2.45" fill="none" stroke="#000" stroke-width="1.5"/>
<circle cx="500.1" cy="310.7" r="2.45" fill="none" stroke="#000" stroke-width="1.5"/>
<circle cx="491.8" cy="317.3" r="2.45" fill="none" stroke="#000" stroke-width="1.5"/>
<circle cx="500.1" cy="321.9" r="2.45" fill="none" stroke="#000" stroke-width="1.5"/>
<circle cx="508.5" cy="320.1" r="2.45" fill="none" stroke="#000" stroke-width="1.5"/>
<circle cx="508.5" cy="323.6" r="2.45" fill="none" stroke="#000" stroke-width="1.5"/>
<circle cx="491.8" cy="329.1" r="2.45" fill="none" stroke="#000" stroke-width="1.5"/>
<circle cx="500.1" cy="331.0" r="2.45" fill="none" stroke="#000" stroke-width="1.5"/>
<circle cx="500.1" cy="341.2" r="2.45" fill="none" stroke="#000" stroke-width="1.5"/>
<circle cx="491.8" cy="350.4" r="2.45" fill="none" stroke="#000" stroke-width="1.5"/>
<circle cx="500.1" cy="356.2" r="2.45" fill="none" stroke="#000" stroke-width="1.5"/>
<circle cx="500.1" cy="369.4" r="2.45" fill="none" stroke="#000" stroke-width="1.5"/>
<rect x="315.80" y="325.00" width="23.30" height="2.00" fill="#000"/>
<rect x="350.40" y="344.00" width="22.70" height="2.00" fill="#000"/>
<rect x="385.40" y="369.00" width="22.10" height="2.00" fill="#000"/>
<rect x="419.30" y="340.00" width="23.10" height="2.00" fill="#000"/>
<rect x="454.20" y="305.00" width="22.90" height="2.00" fill="#000"/>
<rect x="488.60" y="318.00" width="23.30" height="2.00" fill="#000"/>
</svg>
</body></html>
